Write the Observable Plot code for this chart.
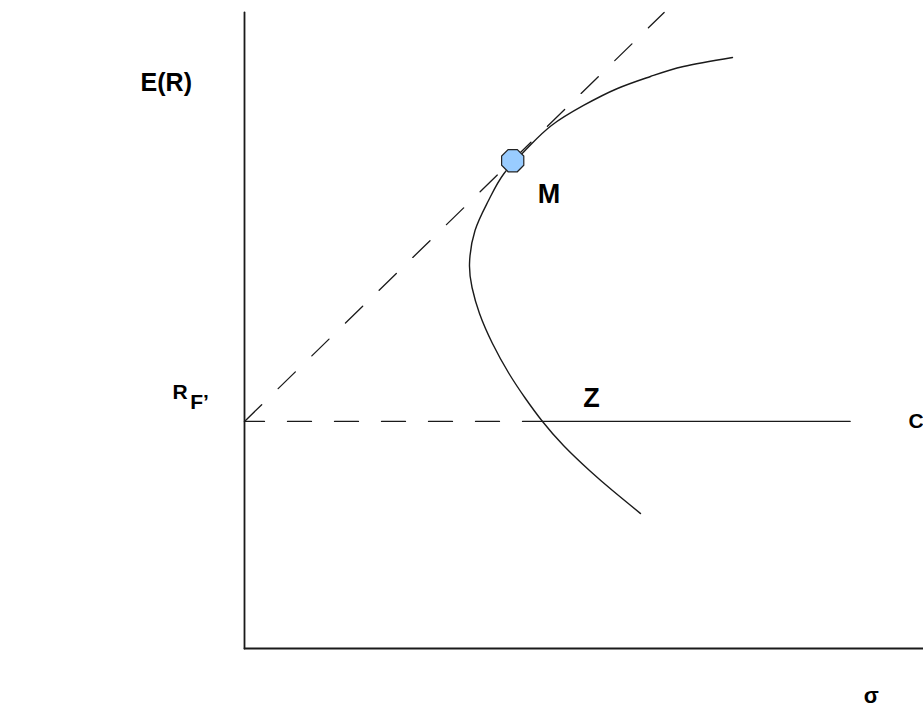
<!DOCTYPE html>
<html>
<head>
<meta charset="utf-8">
<script src="https://cdn.jsdelivr.net/npm/d3@7"></script>
<script src="https://cdn.jsdelivr.net/npm/@observablehq/plot@0.6"></script>
<style>
  html, body { margin: 0; padding: 0; background: #ffffff; }
  #chart svg { display: block; }
</style>
</head>
<body>
<div id="chart"></div>
<script>
// Efficient frontier (σ, E(R)), top arm to bottom arm
const frontierSigma = [7.187, 6.465, 5.979, 5.493, 4.993, 4.521, 4.175, 3.822, 3.594, 3.395, 3.314, 3.351, 3.461, 3.652, 3.895, 4.138, 4.389, 4.698, 5.081, 5.420, 5.832];
const frontierReturn = [9.292, 9.151, 8.994, 8.805, 8.538, 8.223, 7.877, 7.469, 7.044, 6.572, 6.053, 5.676, 5.267, 4.796, 4.324, 3.931, 3.569, 3.192, 2.799, 2.484, 2.123];

// Risk-free rate and market portfolio
const riskFree = 3.57;
const marketSigma = 3.95;
const marketReturn = 7.67;

// Capital market line end (top of the frame)
const cmlEndSigma = 6.18;
const cmlEndReturn = 10;

// Horizontal line R_F: dashed to the frontier crossing (Z), solid to C
const zSigma = 4.39;
const cSigma = 8.92;

// Axis extents
const sigmaMax = 10;
const returnMax = 10;

// Labels
const labelTexts = ["E(R)", "M", "R", "F’", "Z", "C", "σ"];
const labelSigma = [-1.53, 4.32, -1.06, -0.80, 4.99, 9.78, 9.12];
const labelReturn = [8.77, 7.00, 3.93, 3.77, 3.79, 3.46, -0.85];
const labelSize = [25, 27, 21, 21, 27, 21, 22];

const frontier = frontierSigma.map((s, i) => ({s, r: frontierReturn[i]}));
const cml = [{s: 0, r: riskFree}, {s: cmlEndSigma, r: cmlEndReturn}];
const rfDashed = [{s: 0, r: riskFree}, {s: zSigma, r: riskFree}];
const rfSolid = [{s: zSigma, r: riskFree}, {s: cSigma, r: riskFree}];
const yAxisLine = [{s: 0, r: 0}, {s: 0, r: returnMax}];
const xAxisLine = [{s: 0, r: 0}, {s: sigmaMax, r: 0}];
const labels = labelTexts.map((t, i) => ({t, s: labelSigma[i], r: labelReturn[i], size: labelSize[i]}));

const octagon = {
  draw(context, size) {
    const rad = Math.sqrt(size / Math.PI);
    for (let k = 0; k < 8; k++) {
      const a = Math.PI / 8 + k * Math.PI / 4;
      const x = rad * Math.cos(a), y = rad * Math.sin(a);
      if (k === 0) context.moveTo(x, y); else context.lineTo(x, y);
    }
    context.closePath();
  }
};

const ink = "#1a1a1a";
const font = "'Liberation Sans', Arial, 'DejaVu Sans', sans-serif";

const textMarks = labels.map(d => Plot.text([d], {
  x: "s", y: "r", text: "t",
  textAnchor: "start", lineAnchor: "bottom",
  fontSize: d.size, fontWeight: "bold", fill: "#000"
}));

const chart = Plot.plot({
  width: 923,
  height: 707,
  marginLeft: 244,
  marginRight: 0,
  marginTop: 12,
  marginBottom: 59,
  x: {domain: [0, sigmaMax], axis: null},
  y: {domain: [0, returnMax], axis: null},
  style: {background: "#ffffff", fontFamily: font, overflow: "visible"},
  marks: [
    Plot.line(cml, {x: "s", y: "r", stroke: ink, strokeWidth: 1.3, strokeDasharray: "24,23"}),
    Plot.line(rfDashed, {x: "s", y: "r", stroke: ink, strokeWidth: 1.3, strokeDasharray: "24,23", strokeDashoffset: 4}),
    Plot.line(rfSolid, {x: "s", y: "r", stroke: ink, strokeWidth: 1.3}),
    Plot.line(frontier, {x: "s", y: "r", stroke: ink, strokeWidth: 1.4, curve: "natural"}),
    Plot.line(yAxisLine, {x: "s", y: "r", stroke: ink, strokeWidth: 1.8}),
    Plot.line(xAxisLine, {x: "s", y: "r", stroke: ink, strokeWidth: 1.8}),
    Plot.dot([{s: marketSigma, r: marketReturn}], {x: "s", y: "r", r: 12, symbol: octagon, fill: "#99ccff", stroke: "#222", strokeWidth: 1.2}),
    ...textMarks
  ]
});
document.getElementById("chart").appendChild(chart);
</script>
</body>
</html>
